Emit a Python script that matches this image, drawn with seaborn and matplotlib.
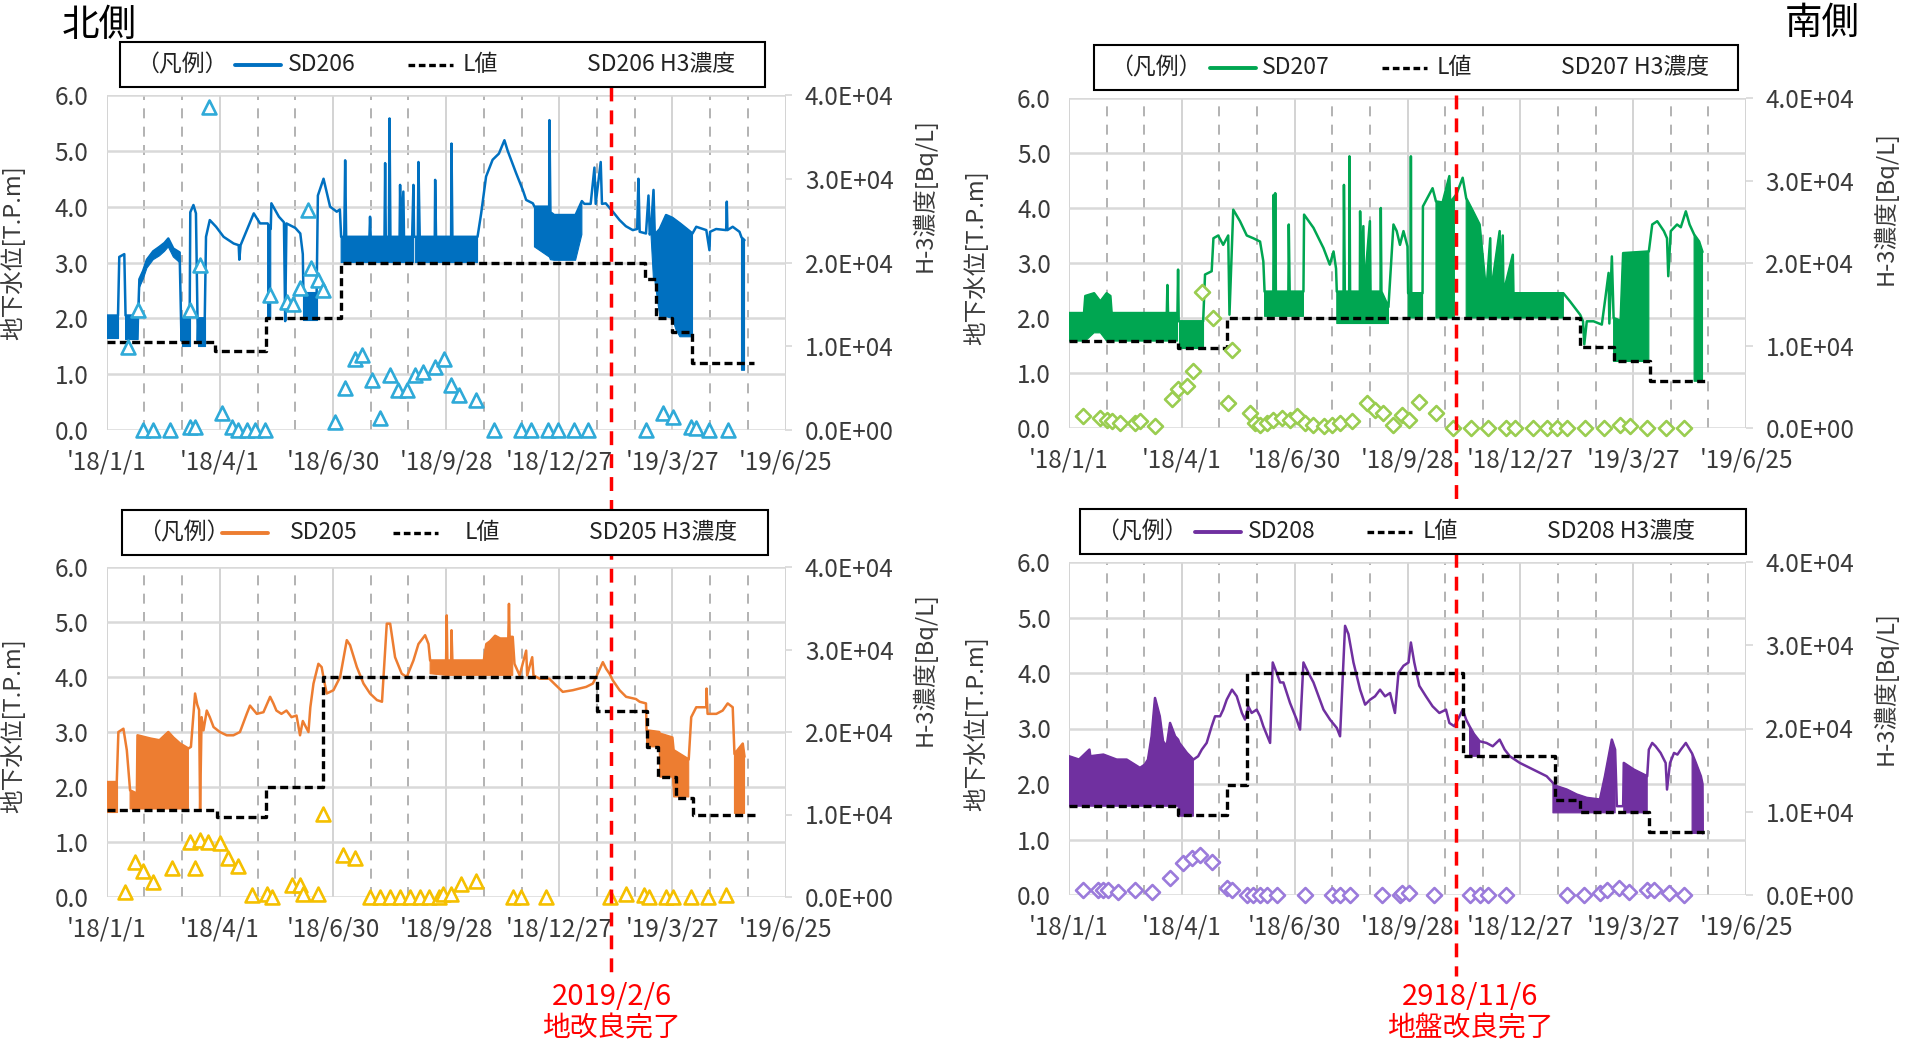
"""Groundwater level vs L-value and H-3 concentration, north / south wells."""
import numpy as np
import pandas as pd
import matplotlib
matplotlib.use("Agg")
import matplotlib.pyplot as plt
import matplotlib.dates as mdates
from matplotlib.lines import Line2D
from matplotlib.patches import Rectangle
from matplotlib.ticker import FuncFormatter
import seaborn as sns

nan = np.nan
T0 = pd.Timestamp("2018-01-01")

TICK_DATES = ["2018-01-01", "2018-04-01", "2018-06-30", "2018-09-28",
              "2018-12-27", "2019-03-27", "2019-06-25"]
TICK_LABELS = ["'18/1/1", "'18/4/1", "'18/6/30", "'18/9/28",
               "'18/12/27", "'19/3/27", "'19/6/25"]

# ---- SD206 (north, top) : days since 2018-01-01, level [T.P.m], lower edge of dense band
SD206_DAY = [0, 9, 10, 14, 15, 25, 26, 29, 32, 37,
             42, 46, 49, 53, 58, 59.5, 60, 66, 66.5, 69,
             71, 72.5, 73, 78, 79, 82, 87, 93, 101, 105,
             105.5, 106.5, 117, 122, 127, 128, 130.5, 131, 137, 141,
             142, 143, 150, 154, 156, 156.5, 167, 168, 172.5, 177.7,
             183, 185.5, 186.5, 189, 189.7, 190.5, 209, 209.5, 210, 221,
             221.5, 222, 224.5, 225, 225.7, 233, 233.4, 234, 236, 236.5,
             243, 244, 244.5, 245.5, 247.5, 248, 249, 261, 261.3, 262,
             274, 274.3, 275, 295, 297.9, 301.8, 307, 312, 316.4, 319,
             325.7, 331, 333.7, 339, 340.3, 352, 352.2, 353, 356, 373,
             378, 380, 385, 388, 389, 393, 394, 397, 403, 408,
             413, 418.5, 422, 423, 424, 429, 431, 432, 433, 435,
             436, 440, 445, 450, 453, 456, 466, 469, 477, 479.5,
             480, 484.8, 492.8, 493.3, 493.8, 498, 503.4, 505, 507.4]
SD206_LEVEL = [2.05, 2.05, 3.1, 3.15, 2.05, 2.05, 2.7, 2.85, 3.05, 3.2,
               3.28, 3.35, 3.43, 3.25, 3.18, 1.6, 2.0, 2.0, 3.9, 4.03,
               3.88, 1.6, 2.0, 2.0, 3.46, 3.76, 3.64, 3.46, 3.34, 3.31,
               3.05, 3.31, 3.88, 3.7, 3.7, 3.7, 3.6, 4.06, 3.82, 3.72,
               1.95, 3.7, 3.62, 3.52, 3.15, 2.45, 2.45, 4.2, 4.5, 4.0,
               3.91, 3.95, 3.46, 3.46, 4.83, 3.46, 3.46, 3.82, 3.46, 3.46,
               4.78, 3.46, 3.46, 5.58, 3.46, 3.46, 4.39, 3.46, 4.27, 3.46,
               3.46, 4.39, 3.46, 3.46, 3.46, 4.8, 3.46, 3.46, 4.48, 3.46,
               3.46, 5.13, 3.46, 3.46, 3.88, 4.54, 4.84, 4.95, 5.19, 5.0,
               4.6, 4.3, 4.12, 4.06, 4.0, 4.0, 5.55, 3.9, 3.85, 3.85,
               4.1, 4.05, 4.05, 4.7, 4.05, 4.8, 4.05, 4.06, 3.9, 3.76,
               3.65, 3.58, 3.6, 4.5, 3.55, 3.52, 4.2, 3.5, 3.58, 4.3,
               3.5, 3.6, 3.85, 3.8, 3.75, 3.7, 3.52, 3.64, 3.58, 3.22,
               3.55, 3.6, 3.58, 4.09, 3.58, 3.64, 3.55, 3.45, 3.4]
SD206_LOW = [1.65, 1.65, nan, nan, 1.62, 1.62, 2.55, 2.7, 2.9, 3.05,
             3.12, 3.2, 3.28, 3.1, 3.0, nan, 1.5, 1.5, nan, nan,
             nan, nan, 1.5, 1.5, nan, nan, nan, nan, nan, nan,
             nan, nan, nan, nan, nan, 2.0, 2.0, nan, nan, nan,
             nan, nan, nan, nan, nan, 1.97, 1.97, nan, nan, nan,
             nan, nan, 3.0, 3.0, 3.0, 3.0, 3.0, 3.0, 3.0, 3.0,
             3.0, 3.0, 3.0, 3.0, 3.0, 3.0, 3.0, 3.0, 3.0, 3.0,
             3.0, 3.0, nan, 3.0, 3.0, 3.0, 3.0, 3.0, 3.0, 3.0,
             3.0, 3.0, 3.0, 3.0, nan, nan, nan, nan, nan, nan,
             nan, nan, nan, nan, 3.28, 3.1, 3.1, 3.05, 3.04, 3.04,
             3.5, nan, nan, nan, nan, nan, nan, nan, nan, nan,
             nan, nan, nan, nan, nan, nan, nan, nan, 3.5, 2.69,
             2.69, 2.03, 2.03, 2.0, 1.79, 1.67, 1.67, nan, nan, nan,
             nan, nan, nan, nan, nan, nan, nan, 1.07, 1.07]
SD206_L_DAY = [0, 86, 127, 186, 428, 437, 450, 466, 515]
SD206_L_VAL = [1.58, 1.42, 2.0, 3.0, 2.7, 2.0, 1.75, 1.2, 1.2]
SD206_H3_DAY = [17.2, 25.2, 29.2, 37.1, 50.4, 66.3, 66.3, 70, 74.3, 81.7,
                91.5, 99.5, 104.8, 111.4, 118, 126, 130, 143.2, 148.5, 153.8,
                160.5, 162.3, 168.4, 172.4, 181.7, 189.7, 197.6, 203, 211, 217.5,
                225.5, 232, 238.7, 245.4, 252, 261.3, 268.7, 274, 280.6, 293.9,
                308.5, 329.7, 337.6, 350.9, 358.9, 372.1, 382.7, 429, 442.4, 450.4,
                465, 469, 479.5, 494]
SD206_H3 = [9900, 14300, 0, 0, 0, 14300, 400, 400, 19700, 38600,
            2000, 400, 0, 0, 0, 0, 16100, 15300, 15100, 16900,
            26300, 19300, 17900, 16700, 1000, 5000, 8500, 8900, 6000, 1400,
            6600, 4800, 4800, 6600, 6900, 7500, 8500, 5400, 4200, 3600,
            0, 0, 0, 0, 0, 0, 0, 0, 2000, 1600,
            400, 200, 0, 0]

# ---- SD207 (south, top)
SD207_DAY = [0, 12, 13, 20, 25, 30, 33, 34, 78, 78.5,
             79, 86.5, 87, 87.5, 107, 108.5, 113.8, 115.2, 119, 123,
             127, 128, 131, 136.4, 141.8, 147, 152.4, 155, 156, 163,
             163.3, 164, 164.5, 165, 175, 175.3, 176, 187, 187.5, 195,
             203, 208, 211, 213, 213.6, 219, 219.3, 220, 223.5, 223.7,
             224.2, 232, 232.2, 233, 234.8, 235.5, 240, 240.5, 248.5, 248.7,
             249.2, 254.8, 258.8, 261.4, 264, 266.8, 270, 270.5, 272.5, 272.7,
             273, 282, 282.3, 290, 292.7, 298, 303.4, 304, 307.4, 309,
             314, 316.8, 322, 327.5, 332.8, 336, 336.5, 343.5, 344, 346,
             346.5, 354, 354.5, 394.3, 399.7, 407.7, 410, 411, 413, 418.4,
             425, 427.8, 430.4, 431, 433, 434.4, 440, 442, 462.5, 465.2,
             469.2, 474.5, 477, 478, 480, 485, 488, 492, 495, 498.6,
             502.6, 505.3]
SD207_LEVEL = [2.09, 2.09, 2.4, 2.45, 2.3, 2.45, 2.4, 2.09, 2.09, 2.6,
               2.09, 2.09, 2.88, 1.94, 1.94, 2.79, 2.85, 3.45, 3.5, 3.33,
               3.5, 2.06, 3.97, 3.76, 3.5, 3.45, 3.39, 3.03, 2.48, 2.48,
               4.24, 2.48, 4.27, 2.48, 2.48, 3.7, 2.48, 2.48, 3.88, 3.64,
               3.27, 2.97, 3.21, 2.9, 2.48, 2.48, 4.42, 2.48, 2.48, 4.94,
               2.48, 2.48, 3.94, 2.48, 3.67, 2.48, 3.76, 2.48, 2.48, 4.0,
               2.48, 2.2, 3.7, 3.58, 3.33, 3.58, 3.3, 2.45, 2.45, 4.94,
               2.45, 2.45, 4.03, 4.36, 4.12, 4.1, 4.58, 4.1, 4.2, 4.25,
               4.55, 4.18, 3.95, 3.7, 2.45, 3.45, 2.45, 3.58, 2.45, 3.5,
               2.45, 3.15, 2.45, 2.45, 2.3, 2.06, 1.94, 1.52, 1.94, 1.94,
               1.88, 2.36, 2.82, 1.9, 3.12, 2.0, 1.95, 3.18, 3.21, 3.7,
               3.76, 3.58, 3.45, 2.76, 3.58, 3.7, 3.65, 3.94, 3.7, 3.52,
               3.39, 3.2]
SD207_LOW = [1.58, 1.58, 1.58, 1.73, 1.73, 1.58, 1.58, 1.58, 1.58, 1.58,
             1.58, 1.58, nan, 1.45, 1.45, nan, nan, nan, nan, nan,
             nan, nan, nan, nan, nan, nan, nan, nan, 2.03, 2.03,
             2.03, 2.03, 2.03, 2.03, 2.03, 2.03, 2.03, 2.03, nan, nan,
             nan, nan, nan, nan, 1.9, 1.9, 1.9, 1.9, 1.9, 1.9,
             1.9, 1.9, 1.9, 1.9, 1.9, 1.9, 1.9, 1.9, 1.9, 1.9,
             1.9, 1.9, nan, nan, nan, nan, nan, 2.0, 2.0, 2.0,
             2.0, 2.0, nan, nan, 2.0, 2.0, 2.0, 2.0, 2.0, nan,
             nan, 2.0, 2.0, 2.0, 2.0, 2.0, 2.0, 2.0, 2.0, 2.0,
             2.0, 2.0, 2.0, 2.0, nan, nan, nan, nan, nan, nan,
             nan, nan, nan, nan, nan, 1.21, 1.21, 1.21, 1.21, nan,
             nan, nan, nan, nan, nan, nan, nan, nan, nan, 0.85,
             0.85, 0.85]
SD207_L_DAY = [0, 87, 126, 407.7, 434.4, 463.3, 509.3]
SD207_L_VAL = [1.58, 1.45, 2.0, 1.48, 1.21, 0.85, 0.85]
SD207_H3_DAY = [11.4, 24.7, 30, 34, 40.7, 52.7, 56.6, 68.6, 82, 87.2,
                94, 99.2, 106, 115.2, 127, 129.8, 144.4, 148.4, 152.4, 157.7,
                163, 169.7, 176.3, 181.6, 188.3, 195, 203, 209.6, 216.2, 225.5,
                237.5, 244.1, 250.8, 258.8, 265.4, 271.3, 279.4, 292.7, 306, 320.8,
                334.2, 348.9, 355.6, 370.3, 381, 389, 397, 411.7, 426.4, 439.8,
                447.8, 461.2, 475.9, 490.6]
SD207_H3 = [1400, 1200, 1000, 800, 600, 600, 800, 200, 3500, 4700,
            5100, 6900, 16500, 13300, 3000, 9500, 1800, 600, 400, 600,
            1000, 1200, 1000, 1400, 600, 400, 200, 400, 600, 800,
            3000, 2200, 1800, 400, 1600, 1000, 3200, 1800, 0, 0,
            0, 0, 0, 0, 0, 0, 0, 0, 0, 400,
            200, 0, 0, 0]

# ---- SD205 (north, bottom)
SD205_DAY = [0, 8, 9.3, 13.3, 16, 18.6, 24, 24.5, 35, 42,
             49, 53, 58.4, 65, 67, 70.3, 72, 73.5, 74.3, 75.5,
             77, 79.6, 82, 85, 90, 95.5, 100.8, 106, 111.4, 114,
             119.4, 124.7, 130, 132.6, 135, 139, 143, 147, 151, 153.8,
             156, 160.5, 162, 164.5, 168.4, 171, 172.4, 175, 180.4, 185.7,
             191, 193.6, 199, 204.3, 209.5, 215, 219, 222.8, 225.5, 229.4,
             234.7, 238.7, 244, 248, 253.3, 256, 257.3, 270, 270.5, 271,
             274, 274.3, 275, 300, 302, 305, 309, 313, 319.5, 320,
             320.5, 323, 324.4, 328.5, 333.7, 334.5, 338.5, 339.5, 344.3, 352,
             356, 362.8, 370.8, 376, 381.4, 386.7, 389.4, 394.7, 397.3, 400,
             402.6, 408, 413.2, 421, 424, 429, 429.5, 439.5, 440, 450,
             451, 463, 465, 469, 477, 477.2, 478, 485, 490, 494,
             498, 499.4, 506, 507.4]
SD205_LEVEL = [2.09, 2.09, 3.0, 3.06, 2.67, 1.94, 1.88, 2.94, 2.88, 2.85,
               3.0, 2.9, 2.79, 2.7, 2.73, 3.7, 3.5, 3.4, 1.6, 3.27,
               3.03, 3.39, 3.27, 3.09, 3.0, 2.94, 2.94, 3.0, 3.33, 3.48,
               3.33, 3.36, 3.64, 3.52, 3.39, 3.33, 3.39, 3.27, 3.3, 2.94,
               3.2, 3.0, 3.45, 3.88, 4.24, 4.18, 4.0, 3.7, 3.76, 4.0,
               4.67, 4.58, 4.18, 3.88, 3.7, 3.58, 3.55, 4.97, 4.97, 4.36,
               4.06, 4.0, 4.3, 4.6, 4.76, 4.6, 4.3, 4.3, 5.12, 4.3,
               4.3, 4.85, 4.3, 4.3, 4.6, 4.65, 4.75, 4.7, 4.7, 5.33,
               4.73, 4.73, 4.24, 4.03, 4.48, 4.03, 4.36, 4.03, 3.97, 3.97,
               3.88, 3.73, 3.76, 3.79, 3.82, 3.88, 4.0, 4.27, 4.15, 4.06,
               3.94, 3.76, 3.64, 3.6, 3.55, 3.52, 3.03, 3.0, 2.97, 2.9,
               2.67, 2.5, 3.27, 3.45, 3.45, 3.79, 3.33, 3.33, 3.39, 3.52,
               3.45, 2.6, 2.79, 2.55]
SD205_LOW = [1.55, 1.55, nan, nan, nan, 1.6, 1.6, 1.6, 1.6, 1.6,
             1.6, 1.6, 1.6, 1.6, nan, nan, nan, nan, nan, nan,
             nan, nan, nan, nan, nan, nan, nan, nan, nan, nan,
             nan, nan, nan, nan, nan, nan, nan, nan, nan, nan,
             nan, nan, nan, nan, nan, nan, nan, nan, nan, nan,
             nan, nan, nan, nan, nan, nan, nan, nan, nan, nan,
             nan, nan, nan, nan, nan, nan, 4.06, 4.03, 4.03, 4.03,
             4.03, 4.03, 4.03, 4.03, 4.03, 4.03, 4.03, 4.03, 4.03, 4.03,
             4.03, 4.03, nan, nan, nan, nan, nan, nan, nan, nan,
             nan, nan, nan, nan, nan, nan, nan, nan, nan, nan,
             nan, nan, nan, nan, nan, nan, 2.73, 2.73, 2.18, 2.18,
             1.82, 1.82, nan, nan, nan, nan, nan, nan, nan, nan,
             nan, 1.52, 1.52, 1.52]
SD205_L_DAY = [0, 87.5, 126.5, 172, 390, 429.7, 438.4, 453, 466.8, 515.4]
SD205_L_VAL = [1.59, 1.45, 2.0, 4.0, 3.39, 2.72, 2.19, 1.8, 1.5, 1.5]
SD205_H3_DAY = [14.6, 22.5, 29.2, 37.1, 51.7, 66.3, 70.3, 74.3, 80.9, 90.2,
                96.8, 104.8, 115.4, 127.3, 131.3, 147.2, 153.8, 156.5, 168.4, 172.4,
                188.3, 197.6, 209.5, 217.5, 225.5, 233.4, 241.4, 249.3, 256, 264,
                267.3, 274, 282, 293.9, 323, 329.7, 349.6, 400, 413.2, 427.8,
                431.8, 445, 450.4, 465, 478.2, 492.8]
SD205_H3 = [600, 4300, 3200, 1800, 3500, 6700, 3500, 6900, 6700, 6500,
            4700, 3700, 200, 400, 0, 1400, 1400, 400, 400, 10100,
            5100, 4700, 0, 0, 0, 0, 0, 0, 0, 0,
            400, 400, 1600, 2000, 0, 0, 0, 0, 400, 200,
            0, 0, 0, 0, 0, 200]

# ---- SD208 (south, bottom)
SD208_DAY = [0, 8, 16.3, 17, 27.4, 38, 46, 56.6, 60.5, 63,
             65.9, 68.6, 72.4, 75, 77.9, 80.6, 84.6, 87, 88, 94,
             99.2, 103, 105.9, 109.8, 113.8, 116.5, 120.5, 123, 125.8, 130,
             133.8, 137.9, 140.4, 143, 145.7, 149.7, 152.4, 155, 157.7, 160.4,
             162.5, 165.7, 168.4, 171, 176.3, 181.6, 184.3, 187, 191, 195,
             203, 208.2, 213.6, 216.2, 220.2, 222.9, 226.9, 232.2, 236.2, 240.2,
             244.1, 248.1, 252.1, 256.1, 260, 262.8, 266.8, 270.8, 272.7, 275.4,
             279.4, 284.7, 290, 295.4, 300.7, 303.4, 307.4, 311.5, 314, 316.8,
             319.5, 323, 327.5, 333, 338, 343.5, 347.5, 351.6, 359.6, 370.3,
             381, 386, 389, 397, 405, 413, 423.5, 427.5, 433, 435.6,
             437, 442, 442.5, 450.5, 461.2, 462.5, 465.2, 467.9, 471.9, 475.9,
             477, 479.4, 482.6, 485.3, 488, 492, 497, 500, 504, 505.3,
             505.5]
SD208_LEVEL = [2.5, 2.44, 2.62, 2.5, 2.53, 2.44, 2.44, 2.29, 2.35, 2.44,
               2.86, 3.55, 3.22, 2.77, 2.68, 3.1, 2.86, 2.8, 2.74, 2.56,
               2.44, 2.5, 2.62, 2.74, 3.04, 3.22, 3.22, 3.34, 3.52, 3.7,
               3.58, 3.28, 3.16, 3.4, 3.28, 3.34, 3.22, 3.04, 2.89, 2.74,
               4.19, 4.0, 3.83, 3.83, 3.46, 3.16, 2.98, 4.19, 4.0, 3.83,
               3.34, 3.16, 3.01, 2.86, 4.85, 4.7, 4.19, 3.7, 3.43, 3.52,
               3.58, 3.7, 3.58, 3.64, 3.28, 4.0, 4.13, 4.19, 4.55, 4.19,
               3.77, 3.58, 3.4, 3.28, 3.34, 3.1, 3.04, 3.22, 3.34, 3.16,
               3.04, 2.9, 2.77, 2.74, 2.68, 2.8, 2.62, 2.5, 2.38, 2.26,
               2.14, 2.02, 1.96, 1.9, 1.81, 1.75, 1.72, 2.14, 2.8, 2.62,
               1.6, 1.6, 2.38, 2.26, 2.14, 2.62, 2.74, 2.68, 2.56, 2.38,
               1.9, 2.38, 2.56, 2.53, 2.62, 2.74, 2.55, 2.38, 2.14, 2.0,
               1.11]
SD208_LOW = [1.6, 1.6, 1.6, 1.6, 1.6, 1.6, 1.6, 1.6, 1.6, 1.6,
             1.6, 1.6, 1.6, 1.6, 1.6, 1.6, 1.6, 1.6, 1.42, 1.42,
             1.42, nan, nan, nan, nan, nan, nan, nan, nan, nan,
             nan, nan, nan, nan, nan, nan, nan, nan, nan, nan,
             nan, nan, nan, nan, nan, nan, nan, nan, nan, nan,
             nan, nan, nan, nan, nan, nan, nan, nan, nan, nan,
             nan, nan, nan, nan, nan, nan, nan, nan, nan, nan,
             nan, nan, nan, nan, nan, nan, nan, nan, nan, nan,
             2.5, 2.5, 2.5, nan, nan, nan, nan, nan, nan, nan,
             nan, 1.48, 1.48, 1.48, 1.48, 1.48, 1.48, 1.48, 1.48, 1.48,
             nan, nan, 1.48, 1.48, 1.48, nan, nan, nan, nan, nan,
             nan, nan, nan, nan, nan, nan, 1.11, 1.11, 1.11, 1.11,
             1.11]
SD208_L_DAY = [0, 87.2, 125.8, 141.8, 314, 387.6, 407.7, 462.5, 510.6]
SD208_L_VAL = [1.6, 1.45, 1.99, 4.0, 2.5, 1.72, 1.5, 1.13, 1.13]
SD208_H3_DAY = [11.4, 23.4, 27.4, 31.4, 39.4, 52.7, 66, 80.6, 91.2, 97.9,
                104.5, 113.8, 125.8, 129.8, 141.8, 147, 152.4, 157.7, 165.7, 188.3,
                209.6, 216.2, 224.2, 249.5, 264, 266, 271.3, 291.4, 319.5, 327.5,
                334.2, 348.9, 397, 410.4, 423.7, 429, 438.4, 446.5, 461.2, 466.5,
                478.6, 490.6]
SD208_H3 = [600, 600, 600, 600, 400, 600, 400, 2000, 3800, 4400,
            4800, 4000, 800, 600, 0, 0, 0, 0, 0, 0,
            0, 0, 0, 0, 0, 200, 200, 0, 0, 0,
            0, 0, 0, 0, 200, 600, 800, 400, 600, 600,
            200, 0]

NORTH_DONE = "2019-02-06"
SOUTH_DONE = "2018-11-06"

W, H = 1905, 1041
TXT = "#3A3A3A"


def num(days):
    return mdates.date2num(T0.to_pydatetime()) + np.asarray(days, float)


def day_of(date):
    return (pd.Timestamp(date) - T0).days


def px_rect(left, top, right, bottom):
    return [left / W, 1 - bottom / H, (right - left) / W, (bottom - top) / H]


def panel(fig, rect, day, level, low, l_day, l_val, h3_day, h3_val,
          color, mcolor, marker, msize, ylab_y, rlab_y):
    ax = fig.add_axes(rect)
    x = num(day)
    level = np.asarray(level, float)
    low = np.asarray(low, float)
    band = np.isfinite(low)
    ax.fill_between(x, np.where(band, low, level), level, where=band,
                    color=color, lw=0.8, zorder=2)
    sns.lineplot(x=x, y=level, ax=ax, color=color, lw=1.8,
                 estimator=None, sort=False, zorder=2)
    sns.lineplot(x=num(l_day), y=l_val, ax=ax, color="black", lw=2.4,
                 linestyle=(0, (2.4, 1.3)), drawstyle="steps-post",
                 estimator=None, sort=False, zorder=3)

    ax.set_xlim(num(0)[()], num(540)[()])
    ax.set_ylim(0, 6)
    major = [num(day_of(d))[()] for d in TICK_DATES]
    minor = [num(d)[()] for d in range(30, 540, 30) if d % 90]
    ax.set_xticks(major)
    ax.set_xticklabels(TICK_LABELS)
    ax.set_xticks(minor, minor=True)
    ax.set_yticks(np.arange(0, 6.1, 1.0))
    ax.yaxis.set_major_formatter(FuncFormatter(lambda v, p: f"{v:.1f}"))
    ax.grid(axis="y", color="#D9D9D9", lw=1.8)
    ax.grid(axis="x", which="major", color="#D0D0D0", lw=1.3)
    ax.grid(axis="x", which="minor", color="#A6A6A6", lw=1.2, ls=(0, (6, 5)))
    ax.set_axisbelow(True)
    ax.tick_params(axis="both", which="both", length=0, labelsize=17.5,
                   labelcolor=TXT)
    ax.tick_params(axis="y", pad=13)
    ax.tick_params(axis="x", pad=14)
    ax.set_ylabel("地下水位[T.P.m]", fontsize=17, color=TXT)
    ax.yaxis.set_label_coords(-0.12, ylab_y)
    ax.set_xlabel("")
    for s in ax.spines.values():
        s.set_visible(False)

    ax2 = ax.twinx()
    sns.scatterplot(x=num(h3_day), y=h3_val, ax=ax2, marker=marker, s=msize,
                    color="white", edgecolor=mcolor, linewidth=1.9,
                    clip_on=False, zorder=5)
    ax2.set_ylim(0, 40000)
    ax2.set_yticks([0, 10000, 20000, 30000, 40000])
    ax2.yaxis.set_major_formatter(FuncFormatter(lambda v, p: f"{v:.1E}"))
    ax2.tick_params(axis="y", length=5, color="#D9D9D9", pad=9,
                    labelsize=17.5, labelcolor=TXT)
    ax2.set_ylabel("H-3濃度[Bq/L]", fontsize=17, color=TXT)
    ax2.yaxis.set_label_coords(1.186, rlab_y)
    for s in ax2.spines.values():
        s.set_visible(False)
    return ax


def legend_box(fig, box, name, color, line_x, dash_x):
    x0, y0, x1, y1 = box
    fig.add_artist(Rectangle((x0 / W, 1 - y1 / H), (x1 - x0) / W, (y1 - y0) / H,
                             transform=fig.transFigure, facecolor="white",
                             edgecolor="black", lw=1.5, zorder=4))
    yc = 1 - (y0 + y1) / 2 / H
    kw = dict(va="center", ha="left", fontsize=16.5, color="#222222", zorder=6)
    fig.text((x0 + 16) / W, yc, "（凡例）", **kw)
    fig.add_artist(Line2D([(x0 + line_x) / W, (x0 + line_x + 46) / W], [yc, yc],
                          transform=fig.transFigure, color=color, lw=2.8, zorder=6))
    fig.text((x0 + 168) / W, yc, name, **kw)
    fig.add_artist(Line2D([(x0 + dash_x) / W, (x0 + dash_x + 45) / W], [yc, yc],
                          transform=fig.transFigure, color="black", lw=2.4,
                          ls=(0, (2.0, 1.1)), zorder=6))
    fig.text((x0 + 343) / W, yc, "L値", **kw)
    fig.text((x0 + 467) / W, yc, f"{name} H3濃度", **kw)


def red_marker(fig, ax, date, y_top, y_bot, label1, label2, text_dx):
    fx = fig.transFigure.inverted().transform(
        ax.transData.transform((num(day_of(date))[()], 0)))[0]
    fig.add_artist(Line2D([fx, fx], [1 - y_top / H, 1 - y_bot / H],
                          transform=fig.transFigure, color="#FF0000", lw=2.5,
                          ls=(0, (4, 2.6)), zorder=3))
    tx = fx + text_dx / W
    fig.text(tx, 1 - 997 / H, label1, ha="center", va="center", fontsize=21,
             color="#FF0000", zorder=6)
    fig.text(tx, 1 - 1028 / H, label2, ha="center", va="center", fontsize=20,
             color="#FF0000", zorder=6)


def main():
    sns.set_theme(style="white")
    plt.rcParams["font.family"] = ["Noto Sans CJK JP", "DejaVu Sans"]
    plt.rcParams["axes.unicode_minus"] = False

    fig = plt.figure(figsize=(W / 100, H / 100), dpi=100, facecolor="white")

    ax_tl = panel(fig, px_rect(106.7, 95, 785.5, 430), SD206_DAY, SD206_LEVEL,
                  SD206_LOW, SD206_L_DAY, SD206_L_VAL, SD206_H3_DAY, SD206_H3,
                  "#0070C0", "#2FAAD8", "^", 100, 0.53, 0.70)
    ax_tr = panel(fig, px_rect(1069, 98, 1746, 428), SD207_DAY, SD207_LEVEL,
                  SD207_LOW, SD207_L_DAY, SD207_L_VAL, SD207_H3_DAY, SD207_H3,
                  "#00A651", "#9ACD50", "D", 58, 0.515, 0.667)
    panel(fig, px_rect(106.7, 567, 785.5, 897), SD205_DAY, SD205_LEVEL,
          SD205_LOW, SD205_L_DAY, SD205_L_VAL, SD205_H3_DAY, SD205_H3,
          "#ED7D31", "#F5C000", "^", 100, 0.52, 0.69)
    panel(fig, px_rect(1069, 562, 1746, 895), SD208_DAY, SD208_LEVEL,
          SD208_LOW, SD208_L_DAY, SD208_L_VAL, SD208_H3_DAY, SD208_H3,
          "#7030A0", "#9B7BDB", "D", 58, 0.515, 0.62)

    legend_box(fig, (120, 42, 765, 87), "SD206", "#0070C0", 115, 288)
    legend_box(fig, (1094, 45, 1738, 90), "SD207", "#00A651", 116, 288)
    legend_box(fig, (122, 510, 768, 555), "SD205", "#ED7D31", 100, 271)
    legend_box(fig, (1080, 509, 1746, 554), "SD208", "#7030A0", 115, 287)

    red_marker(fig, ax_tl, NORTH_DONE, 87, 976, "2019/2/6", "地改良完了", 1)
    red_marker(fig, ax_tr, SOUTH_DONE, 95, 976, "2918/11/6", "地盤改良完了", 14)

    fig.text(62 / W, 1 - 25 / H, "北側", ha="left", va="center", fontsize=27,
             color="black")
    fig.text(1860 / W, 1 - 23 / H, "南側", ha="right", va="center", fontsize=27,
             color="black")

    fig.savefig("out.png", dpi=100, facecolor="white")
    plt.close(fig)


if __name__ == "__main__":
    main()
